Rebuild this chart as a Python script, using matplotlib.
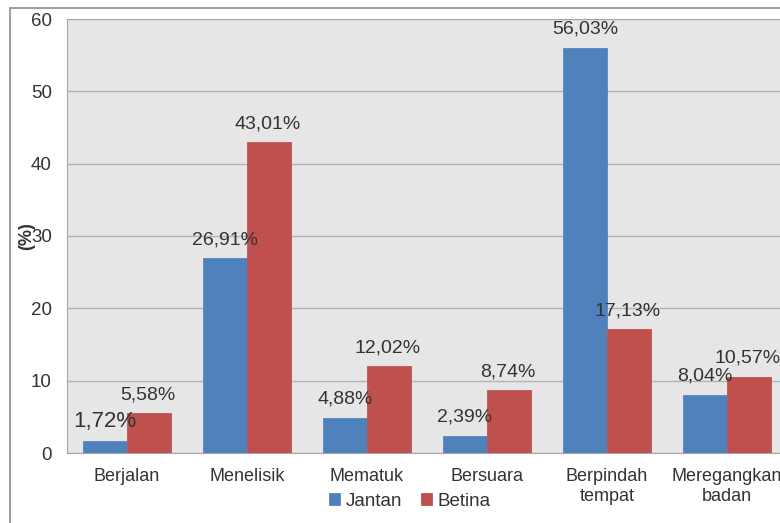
import matplotlib.pyplot as plt
import numpy as np
from matplotlib.patches import Rectangle

plt.rcParams['font.family'] = ['Liberation Sans', 'DejaVu Sans']

categories = ['Berjalan', 'Menelisik', 'Mematuk', 'Bersuara', 'Berpindah\ntempat', 'Meregangkan\nbadan']
jantan = [1.72, 26.91, 4.88, 2.39, 56.03, 8.04]
betina = [5.58, 43.01, 12.02, 8.74, 17.13, 10.57]

W, H = 780, 523
fig = plt.figure(figsize=(7.8, 5.23), dpi=100)

# outer chart frame (cropped on the right / bottom)
fig.add_artist(Rectangle((10 / W, -0.1), 1.2, 1 - 8 / H + 0.1, transform=fig.transFigure,
                         fill=False, ec='#8c8c8c', lw=1.2))

ax = fig.add_axes([67 / W, 70 / H, 720 / W, 434 / H])
ax.set_facecolor('#e6e6e6')
x = np.arange(len(categories))
w = 0.367
c_j, c_b = '#4f81bd', '#c0504d'
text_c = '#333333'
b1 = ax.bar(x - w / 2, jantan, w, color=c_j, edgecolor='#5a86bb', lw=0.6, label='Jantan', zorder=3)
b2 = ax.bar(x + w / 2, betina, w, color=c_b, edgecolor='#b85553', lw=0.6, label='Betina', zorder=3)

ax.set_xlim(-0.5, len(categories) - 0.5)
ax.set_ylim(0, 60)
ax.set_yticks(range(0, 61, 10))
ax.grid(axis='y', color='#b3b3b3', lw=1, zorder=1)
ax.set_xticks(x)
ax.set_xticklabels(categories, fontsize=13, color=text_c, linespacing=1.2)
ax.tick_params(axis='both', length=0, labelsize=13.5, labelcolor=text_c)
ax.tick_params(axis='x', labelsize=13, pad=11)
ax.tick_params(axis='y', pad=11)
for s in ax.spines.values():
    s.set_color('#a6a6a6')
ax.set_ylabel('(%)', fontsize=13, fontweight='bold', color=text_c)
ax.yaxis.set_label_coords((35 - 67) / 720, 0.5)

def fmt(v):
    return f'{v:.2f}%'.replace('.', ',')

for i, (vj, vb) in enumerate(zip(jantan, betina)):
    fs = 16 if i == 0 else 14
    ax.annotate(fmt(vj), (x[i] - w / 2, vj), xytext=(0, 13.5), textcoords='offset points',
                ha='center', va='center', fontsize=fs, color=text_c, zorder=4)
    ax.annotate(fmt(vb), (x[i] + w / 2, vb), xytext=(-1, 13), textcoords='offset points',
                ha='center', va='center', fontsize=14, color=text_c, zorder=4)

fig.legend(handles=[b1, b2], loc='center', bbox_to_anchor=(410 / W, 1 - 501 / H), ncol=2,
           frameon=False, fontsize=13.5, handlelength=0.6, handleheight=0.6, handletextpad=0.3,
           columnspacing=1.0, labelcolor=text_c)

fig.savefig('out.png', dpi=100)
